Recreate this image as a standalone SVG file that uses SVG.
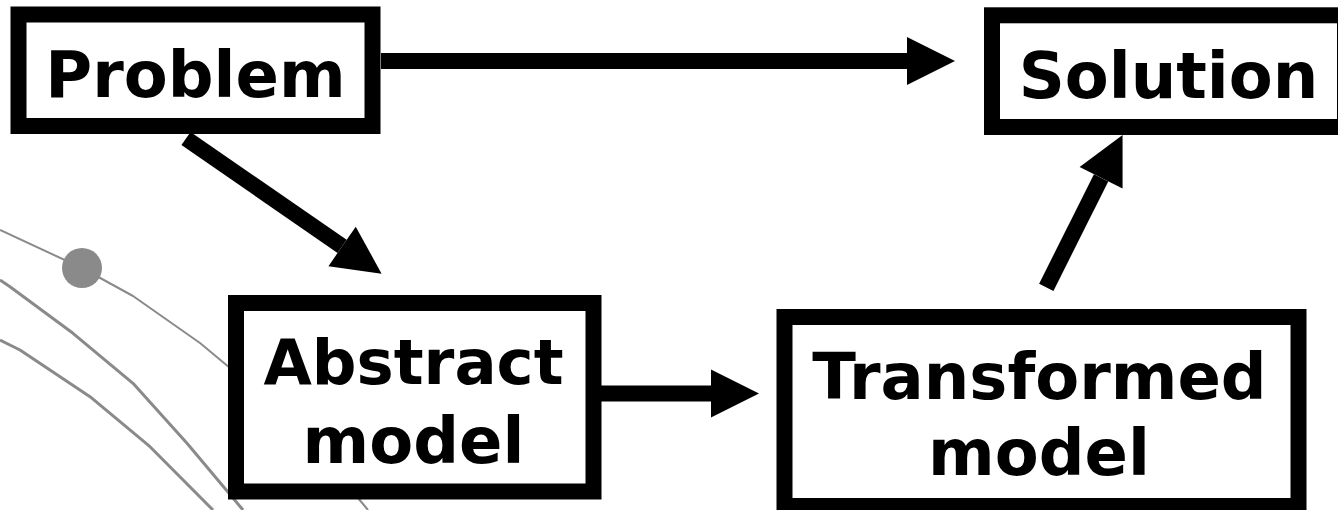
<svg xmlns="http://www.w3.org/2000/svg" width="1338" height="510" viewBox="0 0 1338 510">
<style>
.box{fill:#fff;stroke:#000;stroke-width:16}
.lbl{font-family:"DejaVu Sans",Verdana,sans-serif;font-weight:bold;font-size:64px;fill:#000;text-anchor:middle}
.lbl-sm{font-size:62.5px}
.conn{stroke:#000;stroke-width:16;fill:none}
.bg{fill:none;stroke:#8a8a8a;stroke-linejoin:round}
</style>
<defs>
<marker id="ah" markerUnits="userSpaceOnUse" markerWidth="48" markerHeight="48" viewBox="0 0 46 46" refX="0" refY="23" orient="auto" overflow="visible">
<path d="M0,0 L46,23 L0,46 z" fill="#000"/>
</marker>
</defs>
<g id="background">
<polyline class="bg" stroke-width="2" points="0,230 82,268 133,296 200,343 230,368 300,425 358,498 368,510"/>
<polyline class="bg" stroke-width="3" points="0,280 10,286.7 73,333.3 133,383.3 187,443.3 243,510"/>
<polyline class="bg" stroke-width="3" points="0,340 20,350 90,396.7 150,446.7 213,510"/>
<circle cx="82" cy="268" r="20" fill="#8a8a8a"/>
</g>
<g id="connectors">
<line class="conn" x1="381" y1="61" x2="907" y2="61" marker-end="url(#ah)"/>
<line class="conn" x1="186" y1="138.5" x2="342.1" y2="246.4" marker-end="url(#ah)"/>
<line class="conn" x1="601" y1="393.5" x2="711" y2="393.5" marker-end="url(#ah)"/>
<line class="conn" x1="1046.3" y1="287.3" x2="1101.1" y2="177.8" marker-end="url(#ah)"/>
</g>
<g id="node-problem">
<rect class="box" x="18.5" y="14.5" width="354" height="111.5"/>
<text class="lbl" x="195.5" y="97">Problem</text>
</g>
<g id="node-solution">
<rect class="box" x="992" y="15.3" width="353" height="111.7"/>
<text class="lbl" x="1168.5" y="97.5">Solution</text>
</g>
<g id="node-abstract">
<rect class="box" x="236" y="303" width="357.5" height="188.5"/>
<text class="lbl lbl-sm" x="413.5" y="384.3">Abstract</text>
<text class="lbl" x="413.5" y="462.7">model</text>
</g>
<g id="node-transformed">
<rect class="box" x="784.5" y="317" width="514" height="189"/>
<text class="lbl" x="1039.5" y="399">Transformed</text>
<text class="lbl" x="1039" y="475">model</text>
</g>
</svg>
